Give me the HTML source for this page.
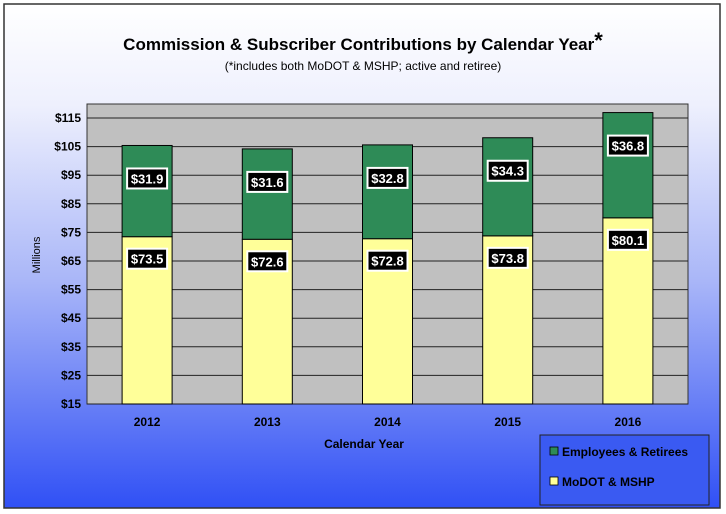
<!DOCTYPE html>
<html><head><meta charset="utf-8"><style>
html,body{margin:0;padding:0;background:#fff;}
svg{display:block;font-family:"Liberation Sans",Arial,sans-serif;}
</style></head><body>
<svg id="c" width="726" height="514" viewBox="0 0 726 514">
<defs>
<linearGradient id="bg" x1="0" y1="0" x2="0" y2="1">
<stop offset="0" stop-color="#ffffff"/><stop offset="0.2" stop-color="#eef0fd"/><stop offset="0.55" stop-color="#a9b6f8"/><stop offset="1" stop-color="#3050f5"/>
</linearGradient>
</defs>
<rect x="4" y="4" width="716" height="504" fill="url(#bg)" stroke="#333" stroke-width="1.5"/>
<text x="363" y="50" text-anchor="middle" font-size="17" font-weight="bold" fill="#000">Commission &amp; Subscriber Contributions by Calendar Year<tspan font-size="22" dy="-2">*</tspan></text>
<text x="363" y="70" text-anchor="middle" font-size="12" fill="#000">(*includes both MoDOT &amp; MSHP; active and retiree)</text>
<rect x="87" y="104" width="601" height="300" fill="#c0c0c0" stroke="#333" stroke-width="1"/>
<g id="grid"></g><g id="bars"></g><g id="labels"></g>
<text x="364" y="448" text-anchor="middle" font-size="12" font-weight="bold">Calendar Year</text>
<text transform="translate(40,255) rotate(-90)" text-anchor="middle" font-size="11">Millions</text>
<g>
<rect x="540" y="435" width="169" height="70" fill="#3a5af2" stroke="#222" stroke-width="1"/>
<rect x="550" y="447" width="8" height="8" fill="#2e8b57" stroke="#000" stroke-width="0.8"/>
<text x="562" y="456" font-size="12" font-weight="bold">Employees &amp; Retirees</text>
<rect x="550" y="477" width="8" height="8" fill="#ffff99" stroke="#000" stroke-width="0.8"/>
<text x="562" y="486" font-size="12" font-weight="bold">MoDOT &amp; MSHP</text>
</g>
</svg>
<script>
const categories=["2012","2013","2014","2015","2016"];
const modot=[73.5,72.6,72.8,73.8,80.1];
const employees=[31.9,31.6,32.8,34.3,36.8];
const yTicks=[15,25,35,45,55,65,75,85,95,105,115];
const NS="http://www.w3.org/2000/svg";
const X0=87,X1=688,Y0=404,YMIN=15,YMAX=119.9;
const y=v=>Y0-(v-YMIN)*(300/(YMAX-YMIN));
const band=(X1-X0)/categories.length;
const xc=i=>X0+band*(i+0.5);
function mk(tag,attrs,parent,text){const e=document.createElementNS(NS,tag);for(const k in attrs)e.setAttribute(k,attrs[k]);if(text!==undefined)e.textContent=text;parent.appendChild(e);return e;}
const grid=document.getElementById('grid'),bars=document.getElementById('bars'),labels=document.getElementById('labels');
yTicks.forEach(t=>{
 const l=mk('line',{x1:X0,x2:X1,y1:y(t),y2:y(t),stroke:'#222','stroke-width':1},grid);
 
 
 const tx=mk('text',{x:81,y:y(t)+4,'text-anchor':'end','font-size':12,'font-weight':'bold'},grid,'$'+t);
 
 
});
function label(cx,cy,val,name){
 const w=38,h=18;
 const r=mk('rect',{x:cx-w/2-2,y:cy-h/2-2,width:w+4,height:h+4,fill:'#fff'},labels);
 
 
 const r2=mk('rect',{x:cx-w/2,y:cy-h/2,width:w,height:h,fill:'#000'},labels);
 
 
 const t=mk('text',{x:cx,y:cy+5,'text-anchor':'middle','font-size':13,'font-weight':'bold',fill:'#fff'},labels,'$'+val);
 
 
}
categories.forEach((c,i)=>{
 const bw=50,x=xc(i)-bw/2;
 const top1=modot[i],top2=modot[i]+employees[i];
 const b1=mk('rect',{x:x,y:y(top1),width:bw,height:y(YMIN)-y(top1),fill:'#ffff99',stroke:'#000','stroke-width':1},bars);
 
 
 const b2=mk('rect',{x:x,y:y(top2),width:bw,height:y(top1)-y(top2),fill:'#2e8b57',stroke:'#000','stroke-width':1},bars);
 
 
 label(xc(i),y(top2)+33,employees[i].toFixed(1),'label-employees-'+c);
 label(xc(i),y(top1)+22,modot[i].toFixed(1),'label-modot-'+c);
 const t=mk('text',{x:xc(i),y:426,'text-anchor':'middle','font-size':12,'font-weight':'bold'},bars,c);
 
 
});
</script>
</body></html>
